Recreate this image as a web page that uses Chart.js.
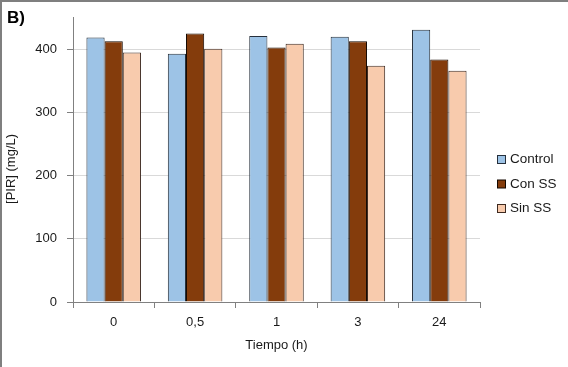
<!DOCTYPE html>
<html>
<head>
<meta charset="utf-8">
<script src="https://cdn.jsdelivr.net/npm/chart.js"></script>
<style>
  body { margin: 0; background: #fff; }
  #wrap { width: 568px; height: 367px; }
</style>
</head>
<body>
<div id="wrap"><canvas id="myChart" width="568" height="367"></canvas></div>
<script>
const categories = ["0", "0,5", "1", "3", "24"];
const control = [419, 393, 421, 420, 431];
const conSS = [413, 425, 403, 413, 384];
const sinSS = [395, 401, 409, 374, 366];
const yTicks = [0, 100, 200, 300, 400];

const fontFamily = "'Liberation Sans', Arial, sans-serif";
Chart.defaults.font.family = fontFamily;
Chart.defaults.color = "#1a1a1a";

// border, "B)" label and the legend on the right
const extras = {
  id: "extras",
  afterDraw(chart) {
    const ctx = chart.ctx;
    ctx.save();
    ctx.strokeStyle = "#7f7f7f";
    ctx.lineWidth = 2;
    ctx.beginPath();
    ctx.moveTo(1, 367);
    ctx.lineTo(1, 1);
    ctx.lineTo(568, 1);
    ctx.stroke();

    ctx.fillStyle = "#000";
    ctx.font = "bold 17px " + fontFamily;
    ctx.textBaseline = "alphabetic";
    ctx.fillText("B)", 7, 23);

    ctx.font = "13.5px " + fontFamily;
    ctx.textBaseline = "middle";
    chart.data.datasets.forEach((ds, i) => {
      let y = 159 + i * 24.5;
      ctx.fillStyle = ds.backgroundColor;
      ctx.fillRect(497.5, y - 3.5, 8, 8);
      ctx.strokeStyle = ds.borderColor;
      ctx.lineWidth = 1;
      ctx.strokeRect(497.5, y - 3.5, 8, 8);
      ctx.fillStyle = "#1a1a1a";
      ctx.fillText(ds.label, 510, y + 0.5);
    });
    ctx.restore();
  },
};

new Chart("myChart", {
  type: "bar",
  data: {
    labels: categories,
    datasets: [
      { label: "Control", data: control, backgroundColor: "#9dc3e6", borderColor: "#26303c", borderWidth: 1 },
      { label: "Con SS", data: conSS, backgroundColor: "#843c0c", borderColor: "#140800", borderWidth: 1 },
      { label: "Sin SS", data: sinSS, backgroundColor: "#f8cbad", borderColor: "#3e2a20", borderWidth: 1 },
    ],
  },
  options: {
    responsive: false,
    animation: false,
    devicePixelRatio: 1,
    layout: { padding: { top: 15, right: 88, left: 0, bottom: 0 } },
    datasets: { bar: { categoryPercentage: 0.67, barPercentage: 1 } },
    plugins: {
      legend: { display: false },
      tooltip: { enabled: false },
    },
    scales: {
      x: {
        offset: true,
        grid: { offset: true, drawOnChartArea: false, tickLength: 6, color: "#808080" },
        border: { color: "#808080" },
        ticks: { padding: 7, font: { size: 13 } },
        title: { display: true, text: "Tiempo (h)", font: { size: 13 }, padding: { top: 0, bottom: 14 } },
        afterFit(scale) { scale.height = 65; },
      },
      y: {
        min: 0,
        max: 450,
        afterBuildTicks(scale) { scale.ticks = yTicks.map((v) => ({ value: v })); },
        grid: { color: "#d9d9d9", tickColor: "#808080", tickLength: 6 },
        border: { color: "#808080" },
        ticks: { padding: 10, font: { size: 13 } },
        // trailing spaces push the rotated text a little lower, as in the original
        title: { display: true, text: "[PIR] (mg/L)\u00a0\u00a0\u00a0\u00a0\u00a0", font: { size: 13 }, padding: { top: 4, bottom: 0 } },
        afterFit(scale) { scale.width = 73; },
      },
    },
  },
  plugins: [extras],
});
</script>
</body>
</html>
